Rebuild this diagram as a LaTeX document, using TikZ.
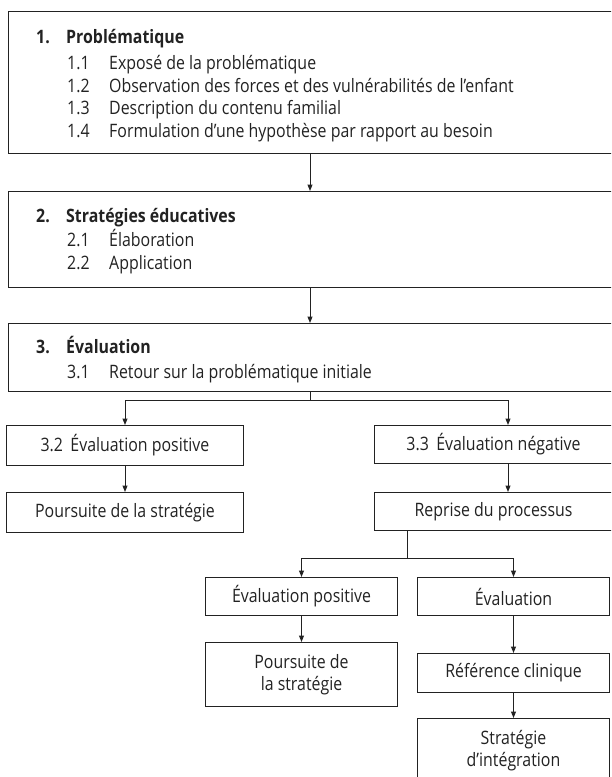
\documentclass[tikz,border=0pt]{standalone}
\usepackage{fontspec}
\setmainfont{Open Sans}[FakeStretch=0.86]
\usetikzlibrary{arrows.meta}
\definecolor{ink}{HTML}{222222}
\begin{document}
\begin{tikzpicture}[x=1pt,y=-1pt,
  font=\fontsize{18.5}{22}\selectfont,
  bx/.style={draw=ink, line width=1pt, rectangle, inner sep=0pt, anchor=north west, text=ink, align=center},
  txt/.style={inner sep=0pt, anchor=base west, text=ink},
  arr/.style={draw=ink, line width=1pt, -{Triangle[length=6.5pt,width=5pt]}},
  ln/.style={draw=ink, line width=1pt}]
\useasboundingbox (0,0) rectangle (611,777);
\clip (0,0) rectangle (611,777);
% big boxes
\node[bx, minimum width=610pt, minimum height=142pt] (b1) at (8,11) {};
\node[bx, minimum width=610pt, minimum height=96pt] (b2) at (8,191) {};
\node[bx, minimum width=610pt, minimum height=68pt] (b3) at (8,323) {};
% texts of box 1
\node[txt] (t1) at (36,43) {\bfseries\makebox[30pt][l]{1.}Problématique};
\node[txt] (t11) at (67,69) {\makebox[42pt][l]{1.1}Exposé de la problématique};
\node[txt] (t12) at (67,92) {\makebox[42pt][l]{1.2}Observation des forces et des vulnérabilités de l’enfant};
\node[txt] (t13) at (67,114) {\makebox[42pt][l]{1.3}Description du contenu familial};
\node[txt] (t14) at (67,137) {\makebox[42pt][l]{1.4}Formulation d’une hypothèse par rapport au besoin};
% texts of box 2
\node[txt] (t2) at (36,222) {\bfseries\makebox[30pt][l]{2.}Stratégies éducatives};
\node[txt] (t21) at (67,246) {\makebox[42pt][l]{2.1}Élaboration};
\node[txt] (t22) at (67,269) {\makebox[42pt][l]{2.2}Application};
% texts of box 3
\node[txt] (t3) at (36,353) {\bfseries\makebox[30pt][l]{3.}Évaluation};
\node[txt] (t31) at (67,378) {\makebox[42pt][l]{3.1}Retour sur la problématique initiale};
% smaller boxes
\node[bx, minimum width=237pt, minimum height=40pt] (e32) at (6,425) {3.2\hspace{0.4em}Évaluation positive};
\node[bx, minimum width=237pt, minimum height=40pt] (p1) at (6,492) {Poursuite de la stratégie};
\node[bx, minimum width=238pt, minimum height=38pt] (e33) at (374,425) {3.3\hspace{0.4em}Évaluation négative};
\node[bx, minimum width=238pt, minimum height=38pt] (rep) at (374,492) {Reprise du processus};
\node[bx, minimum width=192pt, minimum height=38pt] (ep) at (205,577) {Évaluation positive};
\node[bx, minimum width=192pt, minimum height=38pt] (ev) at (417,577) {Évaluation};
\node[bx, minimum width=192pt, minimum height=64pt] (p2) at (205,642) {Poursuite de\\la stratégie};
\node[bx, minimum width=192pt, minimum height=39pt] (rc) at (417,653) {Référence clinique};
\node[bx, minimum width=192pt, minimum height=64pt] (st) at (417,718) {Stratégie\\d’intégration};
% helper coordinates
\coordinate (cx) at (310,0);
\coordinate (br1) at (0,400);
\coordinate (cr) at (508,0);
\coordinate (cs) at (407,0);
\coordinate (br2) at (0,558);
% connectors
\draw[arr] (b1.south -| cx) -- (b2.north -| cx);
\draw[arr] (b2.south -| cx) -- (b3.north -| cx);
\draw[ln] (b3.south -| cx) -- (cx |- br1);
\draw[arr] (cx |- br1) -| (e32.north);
\draw[arr] (cx |- br1) -| (e33.north -| cr);
\draw[arr] (e32.south) -- (p1.north);
\draw[arr] (e33.south -| cr) -- (rep.north -| cr);
\draw[ln] (rep.south -| cs) -- (cs |- br2);
\draw[arr] (cs |- br2) -| (ep.north);
\draw[arr] (cs |- br2) -| (ev.north);
\draw[arr] (ep.south) -- (p2.north);
\draw[arr] (ev.south) -- (rc.north);
\draw[arr] (rc.south) -- (st.north);
\end{tikzpicture}
\end{document}
